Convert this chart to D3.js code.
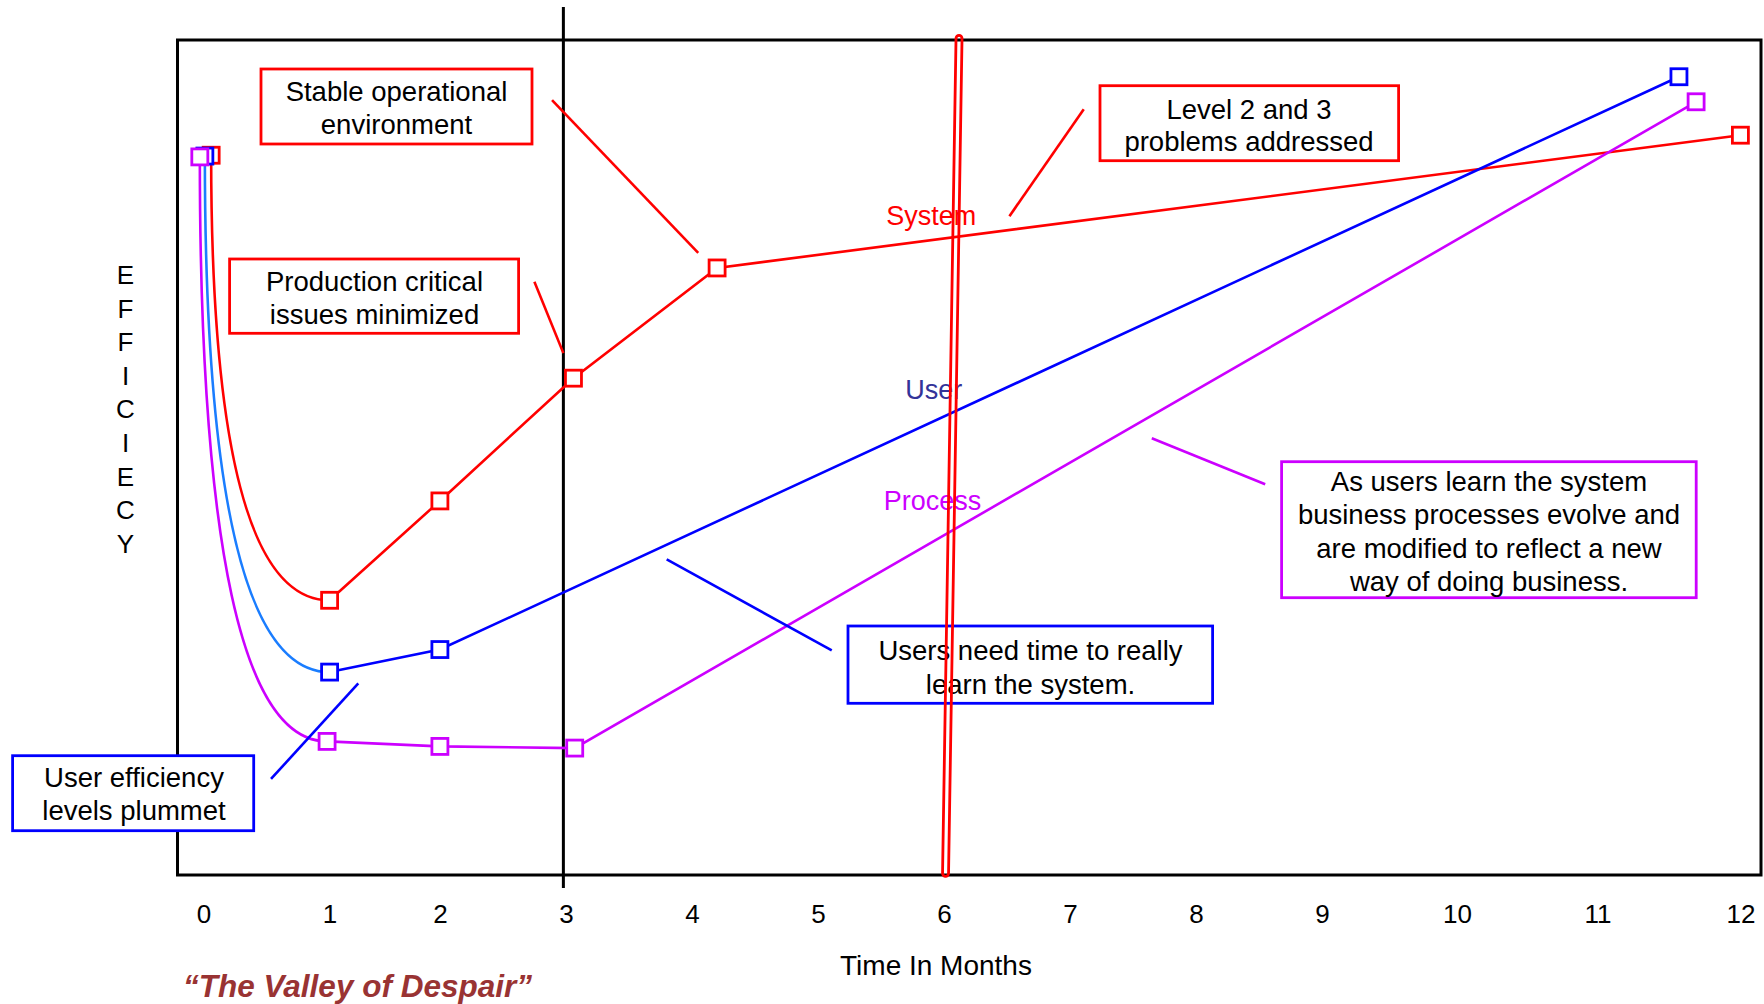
<!DOCTYPE html>
<html>
<head>
<meta charset="utf-8">
<script src="https://cdn.jsdelivr.net/npm/d3@7"></script>
<style>
  body { margin: 0; background: #ffffff; }
  svg { display: block; font-family: "Liberation Sans", Arial, Helvetica, sans-serif; }
</style>
</head>
<body>
<svg id="chart" width="1764" height="1004"></svg>
<script>
// ---------------- DATA ----------------
const monthTicks = [0, 1, 2, 3, 4, 5, 6, 7, 8, 9, 10, 11, 12];
const tickLabels = ["0", "1", "2", "3", "4", "5", "6", "7", "8", "9", "10", "11", "12"];

const seriesNames = ["System", "User", "Process"];

const systemMonths     = [0.06, 1.0, 2.0, 3.06, 4.2, 12.0];
const systemEfficiency = [86.2, 32.9, 44.8, 59.5, 72.7, 88.6];

const userMonths       = [0.01, 1.0, 2.0, 11.57];
const userEfficiency   = [86.1, 24.3, 27.0, 95.6];

const processMonths     = [-0.03, 0.98, 2.0, 3.07, 11.69];
const processEfficiency = [86.0, 16.0, 15.4, 15.2, 92.6];

const yAxisLetters = ["E", "F", "F", "I", "C", "I", "E", "C", "Y"];
const xAxisTitle = "Time In Months";
const chartTitle = "\u201CThe Valley of Despair\u201D";

const calloutTexts = [
  ["Stable operational", "environment"],
  ["Production critical", "issues minimized"],
  ["Level 2 and 3", "problems addressed"],
  ["As users learn the system", "business processes evolve and", "are modified to reflect a new", "way of doing business."],
  ["Users need time to really", "learn the system."],
  ["User efficiency", "levels plummet"]
];
// leader lines in data units [month, efficiency] -> [month, efficiency]
const leaderFrom = [[2.89, 92.8], [2.75, 71.05], [7.11, 91.7], [7.65, 52.3], [3.80, 37.8], [0.535, 11.5]];
const leaderTo   = [[4.05, 74.5], [2.98, 62.5], [6.52, 78.9], [8.55, 46.8], [5.11, 26.9], [1.26, 22.96]];

// month-3 marker line and the hand-drawn month-6 loop
const markerLineMonth = 2.98;
const loopBottom = [6.013, 0.2];
const loopTop = [6.12, 100.2];

// ---------------- LAYOUT ----------------
const W = 1764, H = 1004;
const plot = { left: 177.5, right: 1761, top: 40, bottom: 875 };
const tickPixels = [203.6, 329.6, 439.9, 565.9, 691.9, 817.9, 943.9, 1069.9, 1195.9, 1321.9, 1456.9, 1597.5, 1740.4];

const colors = {
  System: "#ff0000",
  User: "#0000ff",
  Process: "#cc00ff",
  userCurve: "#1a7dff",
  userLabel: "#333399",
  title: "#993333"
};

const calloutColors = [colors.System, colors.System, colors.System, colors.Process, colors.User, colors.User];
// box [x, y, w, h], text center x, first baseline, line step
const calloutBoxes = [
  { box: [261, 69, 271, 75], cx: 396.5, base: 100.5, step: 33 },
  { box: [229.6, 259, 289, 74.3], cx: 374.5, base: 291, step: 33.3 },
  { box: [1100, 85.7, 298.6, 75], cx: 1249, base: 118.5, step: 32.7 },
  { box: [1281.6, 461.7, 414.6, 136], cx: 1489, base: 491, step: 33.4 },
  { box: [848, 626, 364.6, 77.3], cx: 1030.5, base: 660, step: 33.5 },
  { box: [12.6, 755.7, 241.1, 75], cx: 134, base: 787, step: 33 }
];

const seriesLabelPos = {
  System: [5.9, 77.8],
  User: [5.92, 57.0],
  Process: [5.91, 43.7]
};

// ---------------- SCALES ----------------
const x = d3.scaleLinear().domain(monthTicks).range(tickPixels);
const y = d3.scaleLinear().domain([0, 100]).range([plot.bottom, plot.top]);

const svg = d3.select("#chart");
svg.append("rect").attr("width", W).attr("height", H).attr("fill", "#ffffff");

// plot frame
svg.append("rect")
  .attr("x", plot.left).attr("y", plot.top)
  .attr("width", plot.right - plot.left).attr("height", plot.bottom - plot.top)
  .attr("fill", "none").attr("stroke", "#000").attr("stroke-width", 3);

// month-3 vertical line
svg.append("line")
  .attr("x1", x(markerLineMonth)).attr("x2", x(markerLineMonth))
  .attr("y1", 7).attr("y2", 888)
  .attr("stroke", "#000").attr("stroke-width", 3);

// x axis labels
const xAxis = d3.axisBottom(x).tickValues(monthTicks).tickFormat((d, i) => tickLabels[i]).tickSize(0);
const gx = svg.append("g").attr("transform", `translate(0,${plot.bottom})`).call(xAxis);
gx.select(".domain").remove();
gx.selectAll("text")
  .attr("y", 48).attr("dy", 0)
  .attr("font-size", 26).attr("fill", "#000")
  .attr("font-family", "\"Liberation Sans\", Arial, sans-serif");

// axis title
svg.append("text")
  .attr("x", 936).attr("y", 975)
  .attr("text-anchor", "middle").attr("font-size", 28).attr("fill", "#000")
  .text(xAxisTitle);

// y axis vertical letters
svg.append("g").selectAll("text").data(yAxisLetters).join("text")
  .attr("x", 125.5).attr("y", (d, i) => 284 + i * 33.6)
  .attr("text-anchor", "middle").attr("font-size", 26).attr("fill", "#000")
  .text(d => d);

// chart title
svg.append("text")
  .attr("x", 183).attr("y", 997)
  .attr("font-size", 31.5).attr("font-weight", "bold").attr("font-style", "italic")
  .attr("fill", colors.title)
  .text(chartTitle);

// ---------------- SERIES ----------------
const series = [
  { name: "System", months: systemMonths, eff: systemEfficiency, color: colors.System, curveColor: colors.System },
  { name: "User", months: userMonths, eff: userEfficiency, color: colors.User, curveColor: colors.userCurve },
  { name: "Process", months: processMonths, eff: processEfficiency, color: colors.Process, curveColor: colors.Process }
].map(s => ({ ...s, points: s.months.map((m, i) => ({ m, e: s.eff[i] })) }));

const line = d3.line().x(d => x(d.m)).y(d => y(d.e));
const gLines = svg.append("g");
series.forEach(s => {
  const p0 = s.points[0], p1 = s.points[1];
  const p = d3.path();
  p.moveTo(x(p0.m), y(p0.e));
  p.quadraticCurveTo(x(p0.m), y(p1.e), x(p1.m), y(p1.e));
  gLines.append("path").attr("d", p.toString())
    .attr("fill", "none").attr("stroke", s.curveColor).attr("stroke-width", 2.6);
  gLines.append("path").attr("d", line(s.points.slice(1)))
    .attr("fill", "none").attr("stroke", s.color).attr("stroke-width", 2.6);
});

// leader lines
svg.append("g").selectAll("line").data(leaderFrom).join("line")
  .attr("x1", d => x(d[0])).attr("y1", d => y(d[1]))
  .attr("x2", (d, i) => x(leaderTo[i][0])).attr("y2", (d, i) => y(leaderTo[i][1]))
  .attr("stroke", (d, i) => calloutColors[i]).attr("stroke-width", 2.6);

// markers
const ms = 16;
series.forEach(s => {
  svg.append("g").selectAll("rect").data(s.points).join("rect")
    .attr("x", d => x(d.m) - ms / 2).attr("y", d => y(d.e) - ms / 2)
    .attr("width", ms).attr("height", ms)
    .attr("fill", "#ffffff").attr("stroke", s.color).attr("stroke-width", 2.8);
});

// series labels
seriesNames.forEach(n => {
  const pos = seriesLabelPos[n];
  svg.append("text")
    .attr("x", x(pos[0])).attr("y", y(pos[1]))
    .attr("text-anchor", "middle").attr("font-size", 27)
    .attr("fill", n === "User" ? colors.userLabel : colors[n])
    .text(n);
});

// callout boxes
calloutTexts.forEach((lines, i) => {
  const c = calloutBoxes[i];
  const g = svg.append("g");
  g.append("rect")
    .attr("x", c.box[0]).attr("y", c.box[1]).attr("width", c.box[2]).attr("height", c.box[3])
    .attr("fill", "#ffffff").attr("stroke", calloutColors[i]).attr("stroke-width", 2.8);
  g.selectAll("text").data(lines).join("text")
    .attr("x", c.cx).attr("y", (d, j) => c.base + j * c.step)
    .attr("text-anchor", "middle").attr("font-size", 27.5).attr("fill", "#000")
    .text(d => d);
});

// hand-drawn loop around month 6
const hw = 3;
const xb = x(loopBottom[0]), yb = y(loopBottom[1]);
const xt = x(loopTop[0]), yt = y(loopTop[1]);
const loop = d3.path();
loop.moveTo(xb - hw, yb);
loop.lineTo(xt - hw, yt);
loop.arcTo(xt - hw, yt - hw, xt, yt - hw, hw);
loop.arcTo(xt + hw, yt - hw, xt + hw, yt, hw);
loop.lineTo(xb + hw, yb);
loop.arcTo(xb + hw, yb + hw, xb, yb + hw, hw);
loop.arcTo(xb - hw, yb + hw, xb - hw, yb, hw);
loop.closePath();
svg.append("path").attr("d", loop.toString())
  .attr("fill", "none").attr("stroke", colors.System).attr("stroke-width", 2.8)
  .attr("stroke-linejoin", "round");
</script>
</body>
</html>
